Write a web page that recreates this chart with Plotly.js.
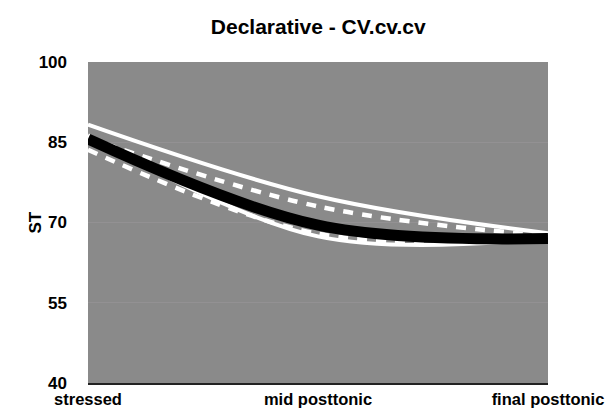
<!DOCTYPE html>
<html><head><meta charset="utf-8">
<script src="https://cdn.plot.ly/plotly-3.0.1.min.js"></script>
<style>html,body{margin:0;padding:0;background:#fff}#chart{width:612px;height:414px}</style>
</head><body><div id="chart"></div>
<script>
const categories = ["stressed", "mid posttonic", "final posttonic"];
const upperSolid = [88.3, 74.9, 68.0];
const upperDashed = [85.8, 73.0, 67.5];
const lowerSolid = [86.3, 67.4, 67.0];
const lowerDashed = [83.6, 67.9, 67.0];
const mean = [85.6, 69.5, 67.0];
const yTicks = [40, 55, 70, 85, 100];

const lineBase = {type: "scatter", mode: "lines", x: categories, hoverinfo: "skip", cliponaxis: false};
const traces = [
  Object.assign({}, lineBase, {y: lowerDashed, line: {color: "#ffffff", width: 4.5, dash: "10px,9px", shape: "spline", smoothing: 1}}),
  Object.assign({}, lineBase, {y: lowerSolid, line: {color: "#ffffff", width: 4, shape: "spline", smoothing: 1}}),
  Object.assign({}, lineBase, {y: upperDashed, line: {color: "#ffffff", width: 4.5, dash: "10px,9px", shape: "spline", smoothing: 1}}),
  Object.assign({}, lineBase, {y: upperSolid, line: {color: "#ffffff", width: 4, shape: "spline", smoothing: 1}}),
  Object.assign({}, lineBase, {y: mean, line: {color: "#000000", width: 11, shape: "spline", smoothing: 1}})
];

const bold = {family: "Liberation Sans, Arial, sans-serif", size: 17, color: "#000", weight: 700};
const layout = {
  width: 612, height: 414,
  margin: {l: 88, r: 64, t: 62, b: 31},
  paper_bgcolor: "#ffffff",
  plot_bgcolor: "#8a8a8a",
  showlegend: false,
  title: {text: "Declarative - CV.cv.cv", x: 0.52, xanchor: "center", y: 0.935, yanchor: "middle",
          font: {family: "Liberation Sans, Arial, sans-serif", size: 21, color: "#000", weight: 700}},
  xaxis: {type: "category", range: [0, 2], showgrid: false, zeroline: false,
          showline: true, linecolor: "#222", linewidth: 1.5, ticks: "", ticklabelstandoff: 1,
          tickfont: {family: "Liberation Sans, Arial, sans-serif", size: 16.5, color: "#000", weight: 700},
          fixedrange: true},
  yaxis: {range: [40, 100], tickvals: yTicks, ticktext: yTicks.map(String),
          showgrid: true, gridcolor: "#939193", gridwidth: 1, zeroline: false, showline: false,
          ticks: "", ticklabelstandoff: 20, tickfont: bold, fixedrange: true},
  annotations: [{text: "ST", xref: "paper", yref: "paper", x: -0.115, y: 0.5, xanchor: "center", yanchor: "middle",
                 textangle: -90, showarrow: false, font: bold}]
};
Plotly.newPlot("chart", traces, layout, {displayModeBar: false, staticPlot: true});
</script></body></html>
